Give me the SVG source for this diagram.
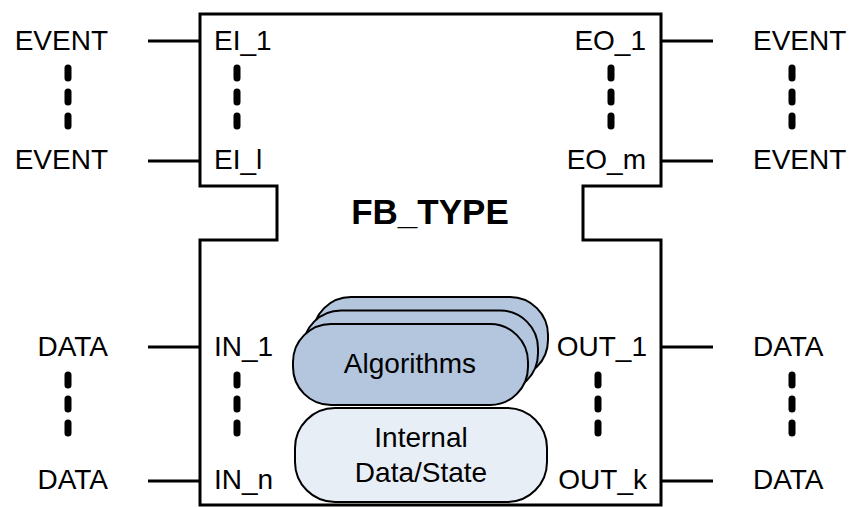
<svg xmlns="http://www.w3.org/2000/svg" width="850" height="507" viewBox="0 0 850 507">
  <style>
    text { font-family: "Liberation Sans", Arial, sans-serif; font-size: 28px; fill: #000; }
    .end { text-anchor: end; }
    .mid { text-anchor: middle; }
    .title { font-size: 35px; font-weight: bold; }
    .wire { stroke: #000; stroke-width: 3; fill: none; }
    .dot { stroke: #000; stroke-width: 7; stroke-linecap: round; }
    .algo { fill: #b4c6de; stroke: #000; stroke-width: 2; }
    .state { fill: #e8eef6; stroke: #000; stroke-width: 2; }
  </style>
  <defs>
    <g id="ellipsis">
      <line class="dot" x1="0" y1="0" x2="0" y2="10"/>
      <line class="dot" x1="0" y1="24" x2="0" y2="34"/>
      <line class="dot" x1="0" y1="48" x2="0" y2="58"/>
    </g>
  </defs>
  <rect width="850" height="507" fill="#fff"/>

  <!-- function block outline -->
  <g id="fb_type">
    <path class="wire" d="M200,14 H661 V186 H583 V240 H661 V505 H200 V240 H277 V186 H200 Z"/>
    <text class="mid title" x="430" y="224">FB_TYPE</text>
  </g>

  <!-- interface wires -->
  <g id="connectors">
    <line class="wire" x1="148" y1="41" x2="200" y2="41"/>
    <line class="wire" x1="148" y1="161" x2="200" y2="161"/>
    <line class="wire" x1="661" y1="41" x2="713" y2="41"/>
    <line class="wire" x1="661" y1="161" x2="713" y2="161"/>
    <line class="wire" x1="148" y1="347" x2="200" y2="347"/>
    <line class="wire" x1="148" y1="481" x2="200" y2="481"/>
    <line class="wire" x1="661" y1="347" x2="713" y2="347"/>
    <line class="wire" x1="661" y1="481" x2="713" y2="481"/>
  </g>

  <!-- event inputs -->
  <g id="event_inputs">
    <text class="end" x="108" y="50">EVENT</text>
    <text class="end" x="108" y="169">EVENT</text>
    <use href="#ellipsis" x="68" y="68"/>
    <text x="214" y="50">EI_1</text>
    <text x="214" y="169">EI_l</text>
    <use href="#ellipsis" x="237" y="68"/>
  </g>

  <!-- event outputs -->
  <g id="event_outputs">
    <text class="end" x="646" y="50">EO_1</text>
    <text class="end" x="646" y="169">EO_m</text>
    <use href="#ellipsis" x="611" y="68"/>
    <text x="753" y="50">EVENT</text>
    <text x="753" y="169">EVENT</text>
    <use href="#ellipsis" x="792" y="68"/>
  </g>

  <!-- data inputs -->
  <g id="data_inputs">
    <text class="end" x="108" y="356">DATA</text>
    <text class="end" x="108" y="489">DATA</text>
    <use href="#ellipsis" x="68" y="375"/>
    <text x="214" y="356">IN_1</text>
    <text x="214" y="489">IN_n</text>
    <use href="#ellipsis" x="237" y="375"/>
  </g>

  <!-- data outputs -->
  <g id="data_outputs">
    <text class="end" x="647" y="356">OUT_1</text>
    <text class="end" x="647" y="489">OUT_k</text>
    <use href="#ellipsis" x="598" y="375"/>
    <text x="753" y="356">DATA</text>
    <text x="753" y="489">DATA</text>
    <use href="#ellipsis" x="792" y="375"/>
  </g>

  <!-- algorithms stack -->
  <g id="algorithms">
    <rect class="algo" x="313" y="297" width="235" height="81" rx="38"/>
    <rect class="algo" x="303" y="310.5" width="235" height="81" rx="38"/>
    <rect class="algo" x="293" y="324" width="235" height="81" rx="38"/>
    <text class="mid" x="410" y="373">Algorithms</text>
  </g>

  <!-- internal data / state -->
  <g id="internal_state">
    <rect class="state" x="295" y="408" width="252" height="94" rx="40"/>
    <text class="mid" x="421" y="447">Internal</text>
    <text class="mid" x="421" y="482">Data/State</text>
  </g>
</svg>
